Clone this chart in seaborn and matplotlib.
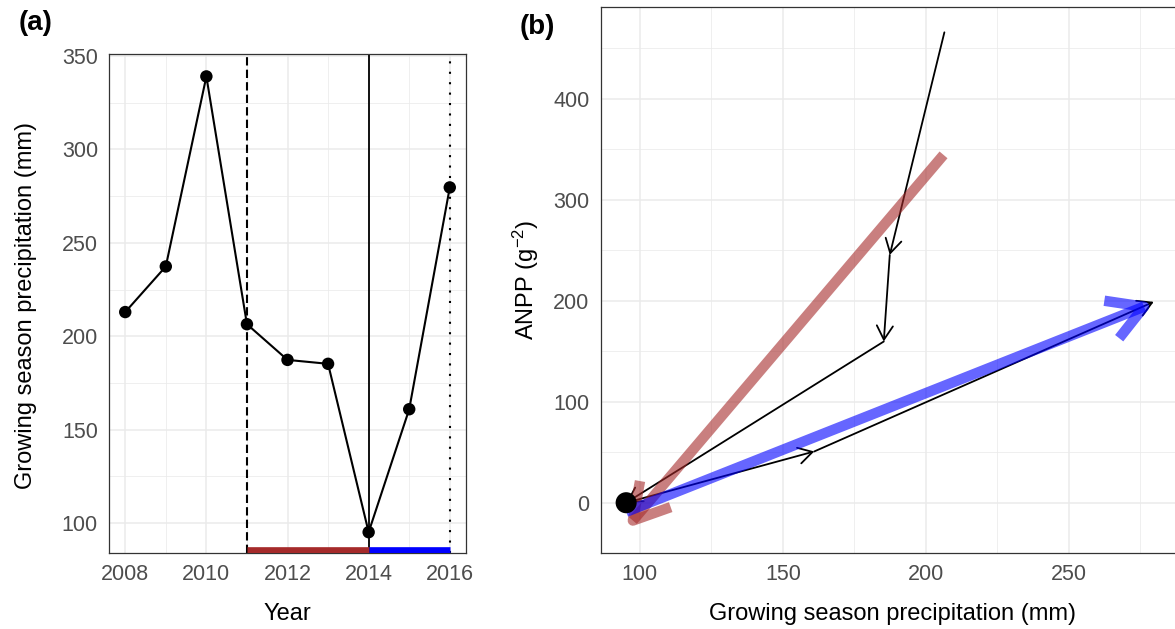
import numpy as np
import pandas as pd
import matplotlib
matplotlib.use("Agg")
import matplotlib.pyplot as plt
import seaborn as sns
from matplotlib.ticker import MultipleLocator

# data
years = [2008, 2009, 2010, 2011, 2012, 2013, 2014, 2015, 2016]
precip = [213.0, 237.4, 339.1, 206.5, 187.4, 185.3, 95.2, 161.0, 279.7]

# panel b: trajectory 2011-2016 (precip vs ANPP)
traj_years = [2011, 2012, 2013, 2014, 2015, 2016]
traj_precip = [206.5, 187.4, 185.3, 95.2, 161.0, 279.7]
traj_anpp = [466.0, 245.5, 159.7, 0.0, 50.8, 199.0]

# fitted drought / recovery arrows
drought_x = [206.2, 95.2]
drought_y = [344.6, -25.5]
recovery_x = [95.2, 279.7]
recovery_y = [-9.0, 198.0]

# period bars under panel a
drought_period = [2011, 2014]
recovery_period = [2014, 2016]
bar_level = 85.5

sns.set_style("white")
plt.rcParams["font.family"] = ["Liberation Sans", "DejaVu Sans"]
plt.rcParams["mathtext.default"] = "regular"
plt.rcParams["text.color"] = "black"
plt.rcParams["axes.labelcolor"] = "black"

TICK_COL = "#4D4D4D"
FRAME_COL = "#333333"
GRID_COL = "#EBEBEB"


def style_axes(ax):
    ax.grid(which="major", color=GRID_COL, lw=1.1, zorder=0)
    ax.grid(which="minor", color=GRID_COL, lw=0.55, zorder=0)
    ax.set_axisbelow(True)
    for s in ax.spines.values():
        s.set_color(FRAME_COL)
        s.set_linewidth(0.9)
    ax.tick_params(which="major", length=5, width=0.9, color=FRAME_COL,
                   labelsize=15.5, labelcolor=TICK_COL, pad=3)
    ax.tick_params(which="minor", length=0)


fig = plt.figure(figsize=(11.75, 6.29), dpi=100)
ax1 = fig.add_axes([0.09277, 0.12035, 0.30383, 0.79380])
ax2 = fig.add_axes([0.51123, 0.12035, 0.49302, 0.86805])

# ---- panel a
df_a = pd.DataFrame({"Year": years, "Precip": precip})
style_axes(ax1)
ax1.axvline(2011, color="black", lw=1.5, ls=(0, (4, 2)), zorder=2)
ax1.axvline(2014, color="black", lw=1.3, zorder=2)
ax1.axvline(2016, color="black", lw=1.5, ls=(0, (1, 4)), zorder=2)
sns.lineplot(data=df_a, x="Year", y="Precip", color="black", lw=1.5, ax=ax1, zorder=3)
sns.scatterplot(data=df_a, x="Year", y="Precip", color="black", s=80,
                edgecolor="none", ax=ax1, zorder=4)
ax1.plot(drought_period, [bar_level, bar_level], color="#A52A2A", lw=4.8,
         solid_capstyle="butt", zorder=5)
ax1.plot(recovery_period, [bar_level, bar_level], color="#0000FF", lw=4.8,
         solid_capstyle="butt", zorder=5)
ax1.set_xlim(2007.6, 2016.4)
ax1.set_ylim(83.9, 351.1)
ax1.xaxis.set_major_locator(MultipleLocator(2))
ax1.xaxis.set_minor_locator(MultipleLocator(1))
ax1.yaxis.set_major_locator(MultipleLocator(50))
ax1.yaxis.set_minor_locator(MultipleLocator(25))
ax1.set_xlabel("Year", fontsize=17, va="center", color="black")
ax1.set_ylabel("Growing season precipitation (mm)", fontsize=17, va="center", color="black")
ax1.xaxis.set_label_coords(0.5, -0.1206)
ax1.yaxis.set_label_coords(-0.232, 0.497)

# ---- panel b
style_axes(ax2)
ax2.set_xlim(86.3, 288.9)
ax2.set_ylim(-50.1, 490.8)
ax2.xaxis.set_major_locator(MultipleLocator(50))
ax2.xaxis.set_minor_locator(MultipleLocator(25))
ax2.yaxis.set_major_locator(MultipleLocator(100))
ax2.yaxis.set_minor_locator(MultipleLocator(50))

for i in range(len(traj_precip) - 1):
    ax2.annotate("", xy=(traj_precip[i + 1], traj_anpp[i + 1]),
                 xytext=(traj_precip[i], traj_anpp[i]),
                 arrowprops=dict(arrowstyle="->,head_length=0.5,head_width=0.29",
                                 color="black", lw=1.3, shrinkA=0, shrinkB=0,
                                 mutation_scale=20), zorder=3)

for xs, ys, col in [(drought_x, drought_y, "#A52A2A"), (recovery_x, recovery_y, "#0000FF")]:
    ax2.annotate("", xy=(xs[1], ys[1]), xytext=(xs[0], ys[0]),
                 arrowprops=dict(arrowstyle="->,head_length=0.5,head_width=0.29",
                                 color=col, alpha=0.6, lw=7.5, shrinkA=0, shrinkB=0,
                                 mutation_scale=50, capstyle="butt",
                                 joinstyle="round"), zorder=4)

df_b = pd.DataFrame({"Precip": [traj_precip[3]], "ANPP": [traj_anpp[3]]})
sns.scatterplot(data=df_b, x="Precip", y="ANPP", color="black", s=230,
                edgecolor="none", ax=ax2, zorder=6)
ax2.set_xlabel("Growing season precipitation (mm)", fontsize=17, va="center", color="black")
ax2.set_ylabel("ANPP (g$^{-2}$)", fontsize=17, va="center", color="black")
ax2.xaxis.set_label_coords(0.503, -0.111)
ax2.yaxis.set_label_coords(-0.129, 0.5)

fig.text(36 / 1175, 1 - 23 / 629, "(a)", fontsize=20, fontweight="bold",
         ha="center", va="center", color="black")
fig.text(537 / 1175, 1 - 27 / 629, "(b)", fontsize=20, fontweight="bold",
         ha="center", va="center", color="black")

fig.savefig("out.png", dpi=100)
